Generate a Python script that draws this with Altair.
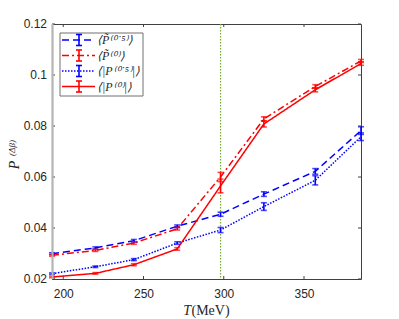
import altair as alt
import pandas as pd

# ---- data ----
T = [193, 220, 244, 271, 298, 325, 357, 385.5]

pt05 = [0.0299, 0.0322, 0.0350, 0.0407, 0.0454, 0.0533, 0.0622, 0.0782]
pt05_err = [0.0004, 0.0004, 0.0005, 0.0005, 0.0008, 0.0009, 0.0011, 0.0015]

pt0 = [0.0293, 0.0312, 0.0341, 0.0397, 0.0600, 0.0828, 0.0955, 0.1055]
pt0_err = [0.0004, 0.0004, 0.0005, 0.0005, 0.0018, 0.0008, 0.0007, 0.0006]

pa05 = [0.0221, 0.0248, 0.0276, 0.0341, 0.0392, 0.0484, 0.0587, 0.0758]
pa05_err = [0.0003, 0.0003, 0.0004, 0.0005, 0.0010, 0.0015, 0.0018, 0.0015]

pa0 = [0.0208, 0.0222, 0.0256, 0.0318, 0.0565, 0.0808, 0.0942, 0.1045]
pa0_err = [0.0003, 0.0003, 0.0004, 0.0005, 0.0027, 0.0012, 0.0008, 0.0007]

series_names = ["pt05", "pt0", "pa05", "pa0"]
series_labels = ["⟨P̃⁽⁰˙⁵⁾⟩", "⟨P̃⁽⁰⁾⟩", "⟨|P⁽⁰˙⁵⁾|⟩", "⟨|P⁽⁰⁾|⟩"]
series_colors = ["#0000ff", "#ff0000", "#0000ff", "#ff0000"]
series_dash = [[7, 4], [7, 3, 2, 3], [1.5, 1.5], [1, 0]]

x_ticks = [200, 250, 300, 350]
y_ticks = [0.02, 0.04, 0.06, 0.08, 0.1, 0.12]
y_tick_labels = ["0.02", "0.04", "0.06", "0.08", "0.1", "0.12"]
T_c = [298]

rows = []
for name, vals, errs in zip(series_names, [pt05, pt0, pa05, pa0],
                            [pt05_err, pt0_err, pa05_err, pa0_err]):
    for t, v, e in zip(T, vals, errs):
        rows.append({"s": name, "T": t, "P": v, "lo": v - e, "hi": v + e})
df = pd.DataFrame(rows)

W, H = 309, 255
xs = alt.Scale(domain=[193, 385.5], nice=False, zero=False)
ys = alt.Scale(domain=[0.02, 0.12], nice=False, zero=False)
cs = alt.Scale(domain=series_names, range=series_colors)
ds = alt.Scale(domain=series_names, range=series_dash)

base = alt.Chart(df)

xenc = alt.X("T:Q", scale=xs,
             axis=alt.Axis(values=x_ticks, ticks=False, domain=False, grid=False,
                           labelPadding=9, title=None))
yenc = alt.Y("P:Q", scale=ys, axis=None)

vline = alt.Chart(pd.DataFrame({"T": T_c})).mark_rule(
    color="#77ac30", strokeDash=[1.5, 1.5], strokeWidth=1.2
).encode(x=alt.X("T:Q", scale=xs), y=alt.value(0), y2=alt.value(H))

lines = base.mark_line(strokeWidth=1.5).encode(
    x=xenc, y=yenc,
    color=alt.Color("s:N", scale=cs, legend=None),
    strokeDash=alt.StrokeDash("s:N", scale=ds, legend=None),
    detail="s:N",
)
err = base.mark_rule(strokeWidth=1.6).encode(
    x=alt.X("T:Q", scale=xs), y=alt.Y("lo:Q", scale=ys), y2="hi:Q",
    color=alt.Color("s:N", scale=cs, legend=None),
)
cap_lo = base.mark_tick(orient="horizontal", size=6, thickness=1.6).encode(
    x=alt.X("T:Q", scale=xs), y=alt.Y("lo:Q", scale=ys),
    color=alt.Color("s:N", scale=cs, legend=None),
)
cap_hi = base.mark_tick(orient="horizontal", size=6, thickness=1.6).encode(
    x=alt.X("T:Q", scale=xs), y=alt.Y("hi:Q", scale=ys),
    color=alt.Color("s:N", scale=cs, legend=None),
)

# inward tick marks (MATLAB style)
axc = "#404040"
xt = alt.Chart(pd.DataFrame({"T": x_ticks}))
yt = alt.Chart(pd.DataFrame({"P": y_ticks, "lab": y_tick_labels}))
tick_b = xt.mark_rule(color=axc).encode(x=alt.X("T:Q", scale=xs), y=alt.value(H), y2=alt.value(H - 3))
tick_t = xt.mark_rule(color=axc).encode(x=alt.X("T:Q", scale=xs), y=alt.value(0), y2=alt.value(3))
tick_l = yt.mark_rule(color=axc).encode(y=alt.Y("P:Q", scale=ys), x=alt.value(0), x2=alt.value(3))
tick_r = yt.mark_rule(color=axc).encode(y=alt.Y("P:Q", scale=ys), x=alt.value(W), x2=alt.value(W - 3))
ylabels = yt.mark_text(font="Liberation Sans", fontSize=12, color="#262626",
                       align="right", baseline="middle").encode(
    y=alt.Y("P:Q", scale=ys), x=alt.value(-5), text="lab:N")

one = pd.DataFrame({"a": [0]})
left_line = alt.Chart(one).mark_rule(color="#b4b4b4", strokeWidth=2.2).encode(
    x=alt.value(0.5), y=alt.value(0), y2=alt.value(H))

# axis titles
serif = "Liberation Serif"
ytitle_p = alt.Chart(one).mark_text(text="P", angle=270, font=serif, fontStyle="italic",
                                    fontSize=14, align="center", baseline="alphabetic",
                                    color="#262626").encode(x=alt.value(-33), y=alt.value(141))
ytitle_s = alt.Chart(one).mark_text(text="(Δβ)", angle=270, font=serif, fontStyle="italic",
                                    fontSize=9, align="center", baseline="alphabetic",
                                    color="#262626").encode(x=alt.value(-37.5), y=alt.value(124))
xtitle_t = alt.Chart(one).mark_text(text="T", font=serif, fontStyle="italic", fontSize=14,
                                    align="right", baseline="alphabetic",
                                    color="#262626").encode(x=alt.value(139), y=alt.value(291))
xtitle_u = alt.Chart(one).mark_text(text="(MeV)", font=serif, fontSize=14,
                                    align="left", baseline="alphabetic",
                                    color="#262626").encode(x=alt.value(139.5), y=alt.value(291))

# legend
legend_layers = [
    alt.Chart(one).mark_rect(fill="white", stroke="#707070", strokeWidth=1).encode(
        x=alt.value(8), x2=alt.value(91), y=alt.value(9), y2=alt.value(72))
]
row_y = [16, 31.5, 47, 62.5]
for lab, col, dash, ry in zip(series_labels, series_colors, series_dash, row_y):
    legend_layers.append(alt.Chart(one).mark_rule(color=col, strokeWidth=1.5, strokeDash=dash).encode(
        x=alt.value(10), x2=alt.value(43), y=alt.value(ry)))
    legend_layers.append(alt.Chart(one).mark_rule(color=col, strokeWidth=1.6).encode(
        x=alt.value(27), y=alt.value(ry - 5.5), y2=alt.value(ry + 5.5)))
    legend_layers.append(alt.Chart(one).mark_rule(color=col, strokeWidth=1.6).encode(
        x=alt.value(24), x2=alt.value(30), y=alt.value(ry - 5.5)))
    legend_layers.append(alt.Chart(one).mark_rule(color=col, strokeWidth=1.6).encode(
        x=alt.value(24), x2=alt.value(30), y=alt.value(ry + 5.5)))
    legend_layers.append(alt.Chart(one).mark_text(text=lab, font=serif, fontStyle="italic",
                                                  fontSize=12, align="left", baseline="middle",
                                                  color="#262626").encode(
        x=alt.value(45), y=alt.value(ry)))

chart = alt.layer(
    vline, lines, err, cap_lo, cap_hi,
    tick_b, tick_t, tick_l, tick_r, left_line, ylabels,
    ytitle_p, ytitle_s, xtitle_t, xtitle_u,
    *legend_layers,
).properties(
    width=W, height=H,
    autosize=alt.AutoSizeParams(type="none"),
    padding={"left": 44, "top": 16, "right": 30, "bottom": 40},
).configure_view(
    stroke=axc, strokeWidth=1
).configure_axis(
    labelFont="Liberation Sans", labelFontSize=12, labelColor="#262626"
)

chart.save("out.html", embed_options={"renderer": "svg", "actions": False})
